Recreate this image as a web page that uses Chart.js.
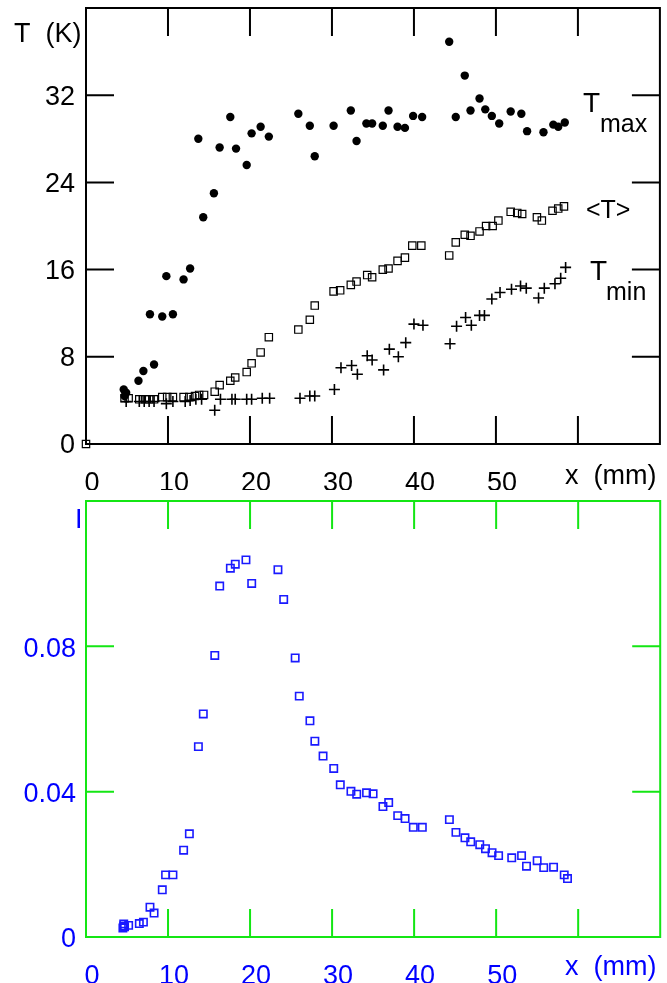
<!DOCTYPE html>
<html>
<head>
<meta charset="utf-8">
<script src="https://cdn.jsdelivr.net/npm/chart.js@4"></script>
<style>
  html, body { margin: 0; padding: 0; background: #fff; }
  #wrap { position: relative; width: 667px; height: 983px; }
  #topChart { position: absolute; left: 0; top: 0; }
  #botChart { position: absolute; left: 0; top: 490px; }
</style>
</head>
<body>
<div id="wrap">
  <canvas id="topChart" width="667" height="490"></canvas>
  <canvas id="botChart" width="667" height="493"></canvas>
</div>
<script>
// x positions (mm) and temperatures (K)
const xMax = [4.6, 4.7, 4.9, 6.4, 7.0, 7.8, 8.3, 9.3, 9.8, 10.6, 11.9, 12.7, 13.7, 14.3, 15.6, 16.3, 17.6, 18.3, 19.6, 20.2, 21.3, 22.3, 25.9, 27.3, 27.9, 30.2, 32.3, 33.0, 34.2, 34.9, 36.2, 36.9, 38.0, 38.9, 39.9, 41.0, 44.3, 45.1, 46.2, 46.9, 48.0, 48.7, 49.5, 50.4, 51.8, 53.1, 53.8, 55.8, 57.0, 57.6, 58.4];
const tMax = [5.0, 4.4, 4.7, 5.8, 6.7, 11.9, 7.3, 11.7, 15.4, 11.9, 15.1, 16.1, 28.0, 20.8, 23.0, 27.2, 30.0, 27.1, 25.6, 28.5, 29.1, 28.2, 30.3, 29.2, 26.4, 29.2, 30.6, 27.8, 29.4, 29.4, 29.2, 30.6, 29.1, 29.0, 30.1, 30.0, 36.9, 30.0, 33.8, 30.6, 31.7, 30.7, 30.1, 29.4, 30.5, 30.3, 28.7, 28.6, 29.3, 29.1, 29.5];

const xAvg = [0, 4.7, 5.2, 6.5, 7.2, 7.7, 8.3, 9.3, 9.9, 10.6, 11.9, 12.6, 13.3, 13.8, 14.4, 15.7, 16.3, 17.6, 18.2, 19.6, 20.2, 21.3, 22.3, 25.9, 27.3, 27.9, 30.2, 31.0, 32.3, 33.0, 34.3, 34.9, 36.2, 36.9, 38.0, 38.9, 39.8, 40.9, 44.3, 45.1, 46.2, 46.9, 48.0, 48.8, 49.6, 50.3, 51.8, 52.6, 53.2, 55.0, 55.6, 56.9, 57.6, 58.3];
const tAvg = [0, 4.2, 4.2, 4.1, 4.1, 4.1, 4.1, 4.3, 4.3, 4.3, 4.3, 4.3, 4.4, 4.5, 4.5, 4.8, 5.4, 5.8, 6.1, 6.6, 7.4, 8.4, 9.8, 10.5, 11.4, 12.7, 14.0, 14.1, 14.6, 14.9, 15.5, 15.3, 16.0, 16.1, 16.8, 17.1, 18.2, 18.2, 17.3, 18.5, 19.2, 19.1, 19.5, 20.0, 20.0, 20.5, 21.3, 21.2, 21.1, 20.8, 20.5, 21.4, 21.6, 21.8];

const xMin = [4.9, 6.5, 7.1, 7.7, 8.3, 9.8, 10.6, 12.1, 12.7, 13.4, 14.1, 15.7, 16.4, 17.8, 18.2, 19.6, 20.2, 21.5, 22.4, 26.1, 27.3, 27.9, 30.3, 31.1, 32.4, 33.1, 34.3, 34.9, 36.3, 37.0, 38.1, 39.0, 40.0, 41.1, 44.4, 45.2, 46.3, 47.0, 48.0, 48.6, 49.5, 50.5, 51.9, 53.0, 53.7, 55.2, 55.9, 57.2, 57.9, 58.5];
const tMin = [3.9, 3.9, 3.9, 3.9, 3.9, 3.7, 3.9, 3.9, 4.0, 4.1, 4.1, 3.1, 4.1, 4.1, 4.1, 4.1, 4.1, 4.2, 4.2, 4.2, 4.4, 4.4, 5.0, 7.0, 7.2, 6.4, 8.1, 7.7, 6.8, 8.7, 8.0, 9.3, 11.0, 10.9, 9.2, 10.8, 11.6, 10.9, 11.8, 11.8, 13.3, 13.9, 14.2, 14.5, 14.3, 13.4, 14.3, 14.7, 15.2, 16.2];

// lower panel: I vs x
const xI = [4.5, 4.6, 4.6, 4.7, 5.2, 6.5, 7.0, 7.8, 8.3, 9.3, 9.7, 10.6, 11.9, 12.6, 13.7, 14.3, 15.7, 16.3, 17.6, 18.2, 19.5, 20.2, 23.4, 24.1, 25.5, 26.0, 27.3, 27.9, 28.9, 30.2, 31.0, 32.3, 33.0, 34.2, 35.0, 36.2, 36.9, 38.0, 38.9, 39.9, 41.0, 44.3, 45.1, 46.2, 46.9, 48.0, 48.7, 49.5, 50.3, 51.9, 53.1, 53.7, 55.0, 55.8, 57.0, 58.3, 58.7];
const iVal = [0.0025, 0.0030, 0.0036, 0.0028, 0.0032, 0.0037, 0.0041, 0.0082, 0.0066, 0.0130, 0.0171, 0.0171, 0.0239, 0.0284, 0.0524, 0.0614, 0.0775, 0.0966, 0.1015, 0.1026, 0.1038, 0.0973, 0.1011, 0.0929, 0.0768, 0.0663, 0.0595, 0.0539, 0.0498, 0.0464, 0.0419, 0.0401, 0.0393, 0.0397, 0.0394, 0.0359, 0.0370, 0.0334, 0.0326, 0.0302, 0.0302, 0.0323, 0.0288, 0.0273, 0.0262, 0.0254, 0.0243, 0.0232, 0.0224, 0.0218, 0.0224, 0.0195, 0.0210, 0.0191, 0.0192, 0.0171, 0.0161];

// ticks
const xTicks = [10, 20, 30, 40, 50, 60];
const tTicks = [8, 16, 24, 32];
const iTicks = [0.04, 0.08];

const pts = (xs, ys) => xs.map((x, i) => ({ x: x, y: ys[i] }));

Chart.defaults.font.family = '"Liberation Sans", Arial, sans-serif';
Chart.defaults.font.size = 27;

const BLUE = '#0000ff';
const GREEN = '#14e614';

// frame with inward ticks on all four sides + free text
const framePlugin = {
  id: 'frame',
  beforeDatasetsDraw(chart, args, opts) {
    const { ctx, chartArea: a } = chart;
    const sx = chart.scales.x, sy = chart.scales.y;
    const len = 28;
    ctx.save();
    ctx.strokeStyle = opts.color;
    ctx.lineWidth = 2;
    ctx.strokeRect(a.left, a.top, a.right - a.left, a.bottom - a.top);
    ctx.beginPath();
    opts.xTicks.forEach(v => {
      const px = sx.getPixelForValue(v);
      ctx.moveTo(px, a.bottom); ctx.lineTo(px, a.bottom - len);
      ctx.moveTo(px, a.top); ctx.lineTo(px, a.top + len);
    });
    opts.yTicks.forEach(v => {
      const py = sy.getPixelForValue(v);
      ctx.moveTo(a.left, py); ctx.lineTo(a.left + len, py);
      ctx.moveTo(a.right, py); ctx.lineTo(a.right - len, py);
    });
    ctx.stroke();
    ctx.restore();
  },
  afterDraw(chart, args, opts) {
    const ctx = chart.ctx;
    ctx.save();
    ctx.textBaseline = 'alphabetic';
    ctx.textAlign = 'left';
    opts.texts.forEach(t => {
      ctx.font = t.size + 'px "Liberation Sans", Arial, sans-serif';
      ctx.fillStyle = t.color;
      ctx.fillText(t.text, t.x, t.y);
    });
    ctx.restore();
  }
};

function xScale(color) {
  return {
    type: 'linear', min: 0, max: 70,
    grid: { display: false }, border: { display: false },
    afterFit: s => { s.height = 46; s.paddingLeft = 0; s.paddingRight = 0; },
    ticks: {
      stepSize: 10, autoSkip: false, maxRotation: 0, padding: 15, labelOffset: 6,
      color: color,
      callback: v => (v <= 50 ? String(v) : '')
    }
  };
}

function yFit(s) {
  s.width = 86;
  s.paddingTop = 0;
  s.paddingBottom = 0;
}

// upper panel: temperatures
new Chart(document.getElementById('topChart'), {
  type: 'scatter',
  data: {
    datasets: [
      { label: 'Tmax', data: pts(xMax, tMax), pointStyle: 'circle', pointRadius: 4.2,
        backgroundColor: '#000', borderWidth: 0, clip: false },
      { label: '<T>', data: pts(xAvg, tAvg), pointStyle: 'rect', pointRadius: 5.2,
        backgroundColor: 'rgba(0,0,0,0)', borderColor: '#000', borderWidth: 1.2, clip: false },
      { label: 'Tmin', data: pts(xMin, tMin), pointStyle: 'cross', pointRadius: 5.5,
        borderColor: '#000', borderWidth: 1.6, clip: false }
    ]
  },
  options: {
    responsive: false,
    animation: false,
    layout: { padding: { top: 8, right: 1, left: 0, bottom: 0 } },
    plugins: {
      legend: { display: false },
      tooltip: { enabled: false },
      frame: {
        color: '#000', xTicks: xTicks, yTicks: tTicks,
        texts: [
          { text: 'T  (K)', x: 14, y: 42, size: 27, color: '#000' },
          { text: 'x  (mm)', x: 565, y: 484, size: 27, color: '#000' },
          { text: 'T', x: 583, y: 112, size: 28, color: '#000' },
          { text: 'max', x: 600, y: 132, size: 25, color: '#000' },
          { text: '<T>', x: 586, y: 218, size: 25, color: '#000' },
          { text: 'T', x: 590, y: 280, size: 28, color: '#000' },
          { text: 'min', x: 606, y: 300, size: 25, color: '#000' }
        ]
      }
    },
    scales: {
      x: xScale('#000'),
      y: {
        type: 'linear', min: 0, max: 40,
        grid: { display: false }, border: { display: false },
        afterFit: yFit,
        ticks: {
          stepSize: 8, padding: 3, labelOffset: 2, color: '#000',
          callback: v => (v >= 40 ? '' : String(v))
        }
      }
    }
  },
  plugins: [framePlugin]
});

// lower panel: I
new Chart(document.getElementById('botChart'), {
  type: 'scatter',
  data: {
    datasets: [
      { label: 'I', data: pts(xI, iVal), pointStyle: 'rect', pointRadius: 5.2,
        backgroundColor: 'rgba(0,0,0,0)', borderColor: '#1a1aff', borderWidth: 1.6, clip: false }
    ]
  },
  options: {
    responsive: false,
    animation: false,
    layout: { padding: { top: 11, right: 1, left: 0, bottom: 0 } },
    plugins: {
      legend: { display: false },
      tooltip: { enabled: false },
      frame: {
        color: GREEN, xTicks: xTicks, yTicks: iTicks,
        texts: [
          { text: 'I', x: 75, y: 38, size: 27, color: BLUE },
          { text: 'x  (mm)', x: 565, y: 485, size: 27, color: BLUE }
        ]
      }
    },
    scales: {
      x: xScale(BLUE),
      y: {
        type: 'linear', min: 0, max: 0.12,
        grid: { display: false }, border: { display: false },
        afterFit: yFit,
        ticks: {
          stepSize: 0.04, padding: 2, labelOffset: 3, color: BLUE,
          callback: v => (v > 0.11 ? '' : (v === 0 ? '0' : v.toFixed(2)))
        }
      }
    }
  },
  plugins: [framePlugin]
});
</script>
</body>
</html>
